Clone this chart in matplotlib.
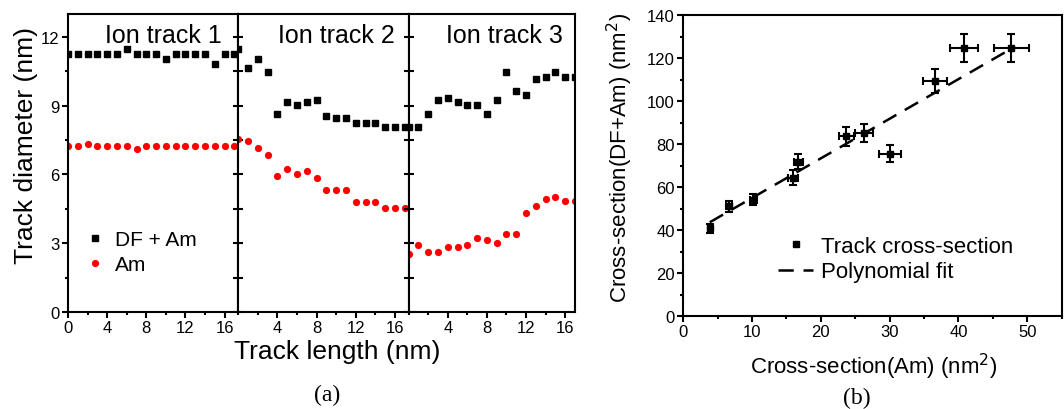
import numpy as np
import matplotlib.pyplot as plt
from matplotlib.ticker import MultipleLocator

plt.rcParams['font.family'] = ['Liberation Sans', 'DejaVu Sans']
plt.rcParams['lines.scale_dashes'] = False
plt.rcParams['axes.linewidth'] = 1.5

# (a) track diameter along the three ion tracks (nm)
track_pos = [0, 1, 2, 3, 4, 5, 6, 7, 8, 9, 10, 11, 12, 13, 14, 15, 16, 17]
df_am_1 = [11.24, 11.24, 11.24, 11.24, 11.24, 11.24, 11.46, 11.24, 11.24,
           11.24, 11.02, 11.24, 11.24, 11.24, 11.24, 10.83, 11.24, 11.24]
am_1 = [7.23, 7.23, 7.33, 7.23, 7.23, 7.23, 7.23, 7.12, 7.23,
        7.23, 7.23, 7.23, 7.23, 7.23, 7.23, 7.23, 7.23, 7.23]
df_am_2 = [11.46, 10.66, 11.05, 10.47, 8.64, 9.15, 9.05, 9.15, 9.26,
           8.54, 8.45, 8.45, 8.23, 8.23, 8.23, 8.06, 8.06, 8.06]
am_2 = [7.55, 7.45, 7.14, 6.85, 5.94, 6.23, 6.03, 6.13, 5.84,
        5.33, 5.33, 5.33, 4.82, 4.82, 4.82, 4.53, 4.53, 4.53]
df_am_3 = [8.06, 8.06, 8.64, 9.26, 9.34, 9.15, 9.05, 9.05, 8.64,
           9.26, 10.47, 9.66, 9.45, 10.15, 10.26, 10.47, 10.26, 10.26]
am_3 = [2.53, 2.92, 2.61, 2.61, 2.82, 2.82, 2.92, 3.23, 3.12,
        3.02, 3.42, 3.42, 4.32, 4.63, 4.93, 5.02, 4.83, 4.83]
track_names = ['Ion track 1', 'Ion track 2', 'Ion track 3']
track_xmax = [17.4, 17.4, 17.0]

# (b) cross-sections (nm^2) with error bars
am_cs = [3.85, 6.64, 10.2, 15.97, 16.7, 23.7, 26.3, 30.1, 36.6, 40.8, 47.7]
dfam_cs = [40.8, 51.0, 54.1, 64.2, 71.8, 83.6, 85.0, 75.5, 109.4, 124.7, 124.7]
am_err = [0.3, 0.4, 0.5, 0.7, 0.65, 1.1, 1.3, 1.6, 1.8, 2.1, 2.5]
dfam_err = [2.1, 2.5, 2.7, 3.5, 3.5, 4.3, 4.3, 4.0, 5.6, 6.4, 6.4]
fit_x = [3.85, 46.9]
fit_coef = [1.842, 36.5]  # slope, intercept

W, H = 1064, 410
fig = plt.figure(figsize=(W / 100, H / 100), dpi=100)

# ---- panel (a): three joined sub-panels ----
left_px = [68, 238.3, 408.6]
width_px = [170.3, 170.3, 166.4]
title_x = [0.904, 0.92, 0.928]
series = [(df_am_1, am_1), (df_am_2, am_2), (df_am_3, am_3)]
axes_a = []
for i in range(3):
    ax = fig.add_axes([left_px[i] / W, 1 - 313 / H, width_px[i] / W, 298 / H])
    df_vals, am_vals = series[i]
    ax.plot(track_pos, df_vals, 's', color='black', markersize=4.4,
            linestyle='none', label='DF + Am')
    ax.plot(track_pos, am_vals, 'o', color='#ff0000', markersize=5.2,
            markeredgewidth=0, linestyle='none', label='Am')
    ax.set_xlim(0, track_xmax[i])
    ax.set_ylim(0, 13)
    ax.xaxis.set_major_locator(MultipleLocator(4))
    ax.xaxis.set_minor_locator(MultipleLocator(2))
    ax.yaxis.set_major_locator(MultipleLocator(3))
    ax.yaxis.set_minor_locator(MultipleLocator(1.5))
    ax.tick_params(axis='x', which='major', direction='out', length=4, width=1.5,
                   labelsize=12, top=False, pad=2)
    ax.tick_params(axis='x', which='minor', direction='out', length=2.5, width=1.5, top=False)
    if i == 0:
        ax.tick_params(axis='y', which='major', direction='out', length=4, width=1.5,
                       labelsize=12, right=False, pad=2)
        ax.tick_params(axis='y', which='minor', direction='out', length=2.5, width=1.5, right=False)
    else:
        ax.tick_params(axis='y', which='both', direction='inout', length=7, width=1.5,
                       right=False, labelleft=False)
        ax.set_xticks([4, 8, 12, 16])
    ax.text(title_x[i], 0.906, track_names[i], transform=ax.transAxes,
            ha='right', va='baseline', fontsize=18)
    axes_a.append(ax)

axes_a[0].legend(loc='center left', bbox_to_anchor=(0.098, 0.201), frameon=False,
                 fontsize=15, handlelength=1.0, handletextpad=0.45,
                 borderpad=0, borderaxespad=0, labelspacing=0.3)

fig.text(26 / W, 1 - 146 / H, 'Track diameter (nm)', rotation=90,
         ha='center', va='center', fontsize=19)
fig.text(337 / W, 1 - 352 / H, 'Track length (nm)', ha='center', va='center', fontsize=19)
fig.text(327 / W, 1 - 395 / H, '(a)', ha='center', va='center', fontsize=17,
         family='Liberation Serif')

# ---- panel (b) ----
axb = fig.add_axes([683.3 / W, 1 - 317 / H, 378.4 / W, 301 / H])
axb.errorbar(am_cs, dfam_cs, xerr=am_err, yerr=dfam_err, fmt='none',
             ecolor='black', elinewidth=1.5, capsize=3, capthick=1.5)
axb.plot(am_cs, dfam_cs, 's', color='black', markersize=3.8, linestyle='none',
         label='Track cross-section')
fx = np.array(fit_x)
axb.plot(fx, fit_coef[0] * fx + fit_coef[1], color='black', linewidth=1.8,
         dashes=(11, 7), label='Polynomial fit')
axb.set_xlim(0, 55)
axb.set_ylim(0, 140)
axb.xaxis.set_major_locator(MultipleLocator(10))
axb.xaxis.set_minor_locator(MultipleLocator(5))
axb.yaxis.set_major_locator(MultipleLocator(20))
axb.yaxis.set_minor_locator(MultipleLocator(10))
axb.tick_params(which='major', direction='out', length=4, width=1.5, labelsize=12,
                top=False, right=False, pad=2)
axb.tick_params(which='minor', direction='out', length=2.5, width=1.5, top=False, right=False)
axb.legend(loc='center left', bbox_to_anchor=(0.25, 0.189), frameon=False,
           fontsize=16, handlelength=1.6, handletextpad=0.32,
           borderpad=0, borderaxespad=0, labelspacing=0.2)

fig.text(620 / W, 1 - 158 / H, 'Cross-section(DF+Am) (nm$^2$)', rotation=90,
         ha='center', va='center', fontsize=16)
fig.text(874 / W, 1 - 367 / H, 'Cross-section(Am) (nm$^2$)', ha='center', va='center',
         fontsize=16)
fig.text(857 / W, 1 - 398 / H, '(b)', ha='center', va='center', fontsize=17,
         family='Liberation Serif')

fig.savefig('out.png', dpi=100)
